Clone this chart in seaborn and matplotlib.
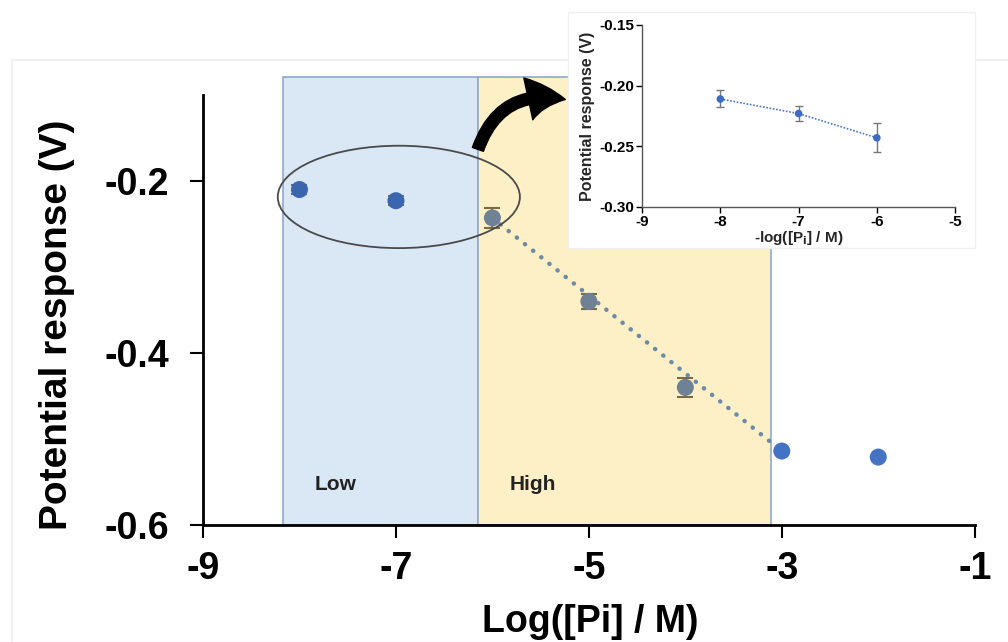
import numpy as np
import pandas as pd
import matplotlib
matplotlib.use("Agg")
import matplotlib.pyplot as plt
import seaborn as sns
from matplotlib.patches import Rectangle, Ellipse, FancyArrowPatch

# main chart data
log_pi = [-8, -7, -6, -5, -4, -3, -2]
potential = [-0.210, -0.223, -0.243, -0.340, -0.440, -0.514, -0.521]
err = [0.005, 0.005, 0.012, 0.009, 0.011, 0.0, 0.0]
group = ["low", "low", "high", "high", "high", "out", "out"]

# linear fit segment (high range)
fit_x = [-6, -3]
fit_y = [-0.243, -0.514]

# inset data
in_x = [-8, -7, -6]
in_y = [-0.211, -0.223, -0.243]
in_err = [0.007, 0.006, 0.012]

# shaded ranges
low_range = [-8.17, -6.15]
high_range = [-6.15, -3.11]

sns.set_style("white")
plt.rcParams['font.family'] = ['Liberation Sans', 'DejaVu Sans']
plt.rcParams['text.color'] = 'black'
plt.rcParams['xtick.color'] = 'black'
plt.rcParams['ytick.color'] = 'black'

df = pd.DataFrame({"x": log_pi, "y": potential, "err": err, "g": group})

fig = plt.figure(figsize=(10.08, 6.42), dpi=100)

# faint outer frame of the pasted picture
fig.patches.append(Rectangle((12 / 1008, -0.01), 1.0, 1 - 60 / 642 + 0.01,
                             transform=fig.transFigure, facecolor="none",
                             edgecolor="#eeeeee", lw=1.2, zorder=0))

ax = fig.add_axes([0.2014, 0.1822, 0.7656, 0.670])

# shaded regions (extend above axes top)
ax.add_patch(Rectangle((low_range[0], -0.6), low_range[1] - low_range[0], 0.521,
                       facecolor="#dae7f4", edgecolor="#8ea9cf", lw=1.2, clip_on=False, zorder=0))
ax.add_patch(Rectangle((high_range[0], -0.6), high_range[1] - high_range[0], 0.521,
                       facecolor="#fdefc6", edgecolor="#8ea9cf", lw=1.2, clip_on=False, zorder=0))

sns.lineplot(x=fit_x, y=fit_y, ax=ax, color="#6d8aa8", lw=3.2, linestyle=(0, (0.05, 2.3)),
             dash_capstyle="round", zorder=2)
ax.errorbar(df["x"], df["y"], yerr=df["err"], fmt="none", ecolor="#7a6a45",
            elinewidth=1.5, capsize=6, capthick=1.5, zorder=3)
palette = {"low": "#3a66b0", "high": "#6f8295", "out": "#4472c4"}
sns.scatterplot(data=df, x="x", y="y", hue="g", palette=palette, s=150,
                edgecolor="none", legend=False, ax=ax, zorder=4)

ax.add_patch(Ellipse((-6.97, -0.2186), 2.51, 0.119, facecolor="none",
                     edgecolor="#4a4a4a", lw=1.3, zorder=5))

ax.text(-7.84, -0.559, "Low", fontsize=15, fontweight="bold", color="#222222")
ax.text(-5.82, -0.559, "High", fontsize=15, fontweight="bold", color="#222222")

ax.set_xlim(-9, -1)
ax.set_ylim(-0.6, -0.1)
ax.set_xticks([-9, -7, -5, -3, -1])
ax.set_yticks([-0.6, -0.4, -0.2])
ax.set_xticklabels(["-9", "-7", "-5", "-3", "-1"])
ax.set_yticklabels(["-0.6", "-0.4", "-0.2"])
ax.set_xlabel("")
ax.set_ylabel("")
for s in ["top", "right"]:
    ax.spines[s].set_visible(False)
for s in ["left", "bottom"]:
    ax.spines[s].set_color("black")
    ax.spines[s].set_linewidth(2)
ax.tick_params(axis="y", direction="out", length=9.5, width=1.5, labelsize=27, pad=15, left=True)
ax.tick_params(axis="x", direction="out", length=9, width=1.5, labelsize=27, pad=10, bottom=True)
for lab in ax.get_xticklabels() + ax.get_yticklabels():
    lab.set_fontweight("bold")
ax.patch.set_alpha(0)

fig.text(590 / 1008, 1 - 632 / 642, "Log([Pi] / M)", fontsize=27, fontweight="bold",
         ha="center", va="baseline")
fig.text(57 / 1008, 1 - 325 / 642, "Potential response (V)", fontsize=28, fontweight="bold",
         ha="center", va="center", rotation=90)

# curved arrow
arrow = FancyArrowPatch((477 / 1008, 1 - 152 / 642), (568 / 1008, 1 - 100 / 642),
                        transform=fig.transFigure, connectionstyle="arc3,rad=-0.45",
                        arrowstyle="simple,head_width=2.2,head_length=1.9,tail_width=0.6",
                        mutation_scale=14, color="black", zorder=6)
fig.patches.append(arrow)

# inset white box
fig.patches.append(Rectangle((568 / 1008, 1 - 248 / 642), 407 / 1008, 236 / 642,
                             transform=fig.transFigure, facecolor="white",
                             edgecolor="#f0f0f0", lw=1, zorder=7))

ins = fig.add_axes([0.637, 0.6776, 0.3105, 0.2835])
ins.set_zorder(8)
sns.lineplot(x=in_x, y=in_y, ax=ins, color="#4a78c8", lw=1.2, linestyle=(0, (1, 1)), zorder=2)
ins.errorbar(in_x, in_y, yerr=in_err, fmt="none", ecolor="#777777", elinewidth=1,
             capsize=3, capthick=1, zorder=3)
sns.scatterplot(x=in_x, y=in_y, ax=ins, color="#3a6cc4", s=30, edgecolor="none", zorder=4)
ins.set_xlim(-9, -5)
ins.set_ylim(-0.30, -0.15)
ins.set_xticks([-9, -8, -7, -6, -5])
ins.set_yticks([-0.30, -0.25, -0.20, -0.15])
ins.set_xticklabels(["-9", "-8", "-7", "-6", "-5"])
ins.set_yticklabels(["-0.30", "-0.25", "-0.20", "-0.15"])
for s in ["top", "right"]:
    ins.spines[s].set_visible(False)
for s in ["left", "bottom"]:
    ins.spines[s].set_color("#555555")
    ins.spines[s].set_linewidth(1)
ins.tick_params(axis="both", direction="out", length=4, width=1, labelsize=11, pad=2,
                left=True, bottom=True)
for lab in ins.get_xticklabels() + ins.get_yticklabels():
    lab.set_fontweight("bold")
ins.set_xlabel("-log([P$_\\mathbf{i}$] / M)", fontsize=11, fontweight="bold", labelpad=0)
ins.set_ylabel("Potential response (V)", fontsize=11.5, fontweight="bold", labelpad=3)

fig.savefig("out.png", dpi=100)
